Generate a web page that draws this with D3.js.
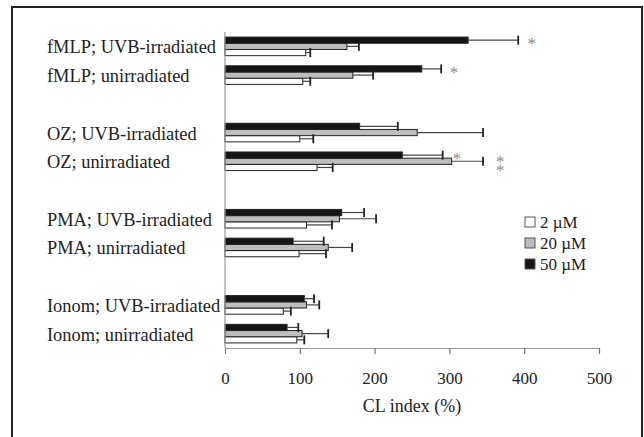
<!DOCTYPE html>
<meta charset="utf-8">
<script src="https://d3js.org/d3.v7.min.js"></script>
<style>
  body { margin: 0; background: #fff; }
  svg text { font-family: "Liberation Serif", "Times New Roman", serif; fill: #222; }
</style>
<svg width=644 height=437></svg>
<script>
// categories, top to bottom; a blank slot follows each pair
var categories = ["fMLP; UVB-irradiated", "fMLP; unirradiated",
                  "OZ; UVB-irradiated", "OZ; unirradiated",
                  "PMA; UVB-irradiated", "PMA; unirradiated",
                  "Ionom; UVB-irradiated", "Ionom; unirradiated"];
var series = ["2 \u00b5M", "20 \u00b5M", "50 \u00b5M"];

// CL index (%) means and error bars, one entry per category
var mean2  = [108, 104, 100, 123, 109,  99,  78,  96];
var err2   = [  6,  10,  18,  21,  34,  36,  10,  10];
var mean20 = [163, 171, 257, 303, 153, 138, 109, 103];
var err20  = [ 16,  27,  88,  42,  49,  32,  17,  35];
var mean50 = [325, 263, 180, 237, 156,  91, 106,  83];
var err50  = [ 67,  26,  51,  54,  30,  41,  13,  15];

var xTicks = [0, 100, 200, 300, 400, 500];

// significance marks: category, series indexes, x value where the mark sits
var stars = [
  ["fMLP; UVB-irradiated", [2], 410],
  ["fMLP; unirradiated", [2], 306],
  ["OZ; unirradiated", [2], 310],
  ["OZ; unirradiated", [1, 0], 368]
];

var means = [mean2, mean20, mean50];
var errs = [err2, err20, err50];
var fills = ["#ffffff", "#bdbdbd", "#151515"];

var svg = d3.select("svg");

// outer frame
svg.append("rect")
  .attr("x", 12).attr("y", 7)
  .attr("width", 630).attr("height", 450)
  .attr("fill", "none").attr("stroke", "#222").attr("stroke-width", 2);

var slots = [];
categories.forEach(function(c, i) {
  slots.push(c);
  if (i % 2 == 1 && i < categories.length - 1) slots.push("gap" + i);
});

var x = d3.scaleLinear().domain([0, 500]).range([225, 599]);
var y = d3.scaleBand().domain(slots).range([32, 348]).padding(0);

// bars: 50 on top, then 20, then 2
var barH = 6.2;
var rowOrder = [2, 1, 0];
function rowY(cat, s) {
  var top = y(cat) + (y.bandwidth() - barH * 3) / 2;
  return top + rowOrder.indexOf(s) * barH;
}

var rows = [];
categories.forEach(function(c, i) {
  for (var s = 0; s < 3; s++) {
    rows.push({cat: c, s: s, v: means[s][i], e: errs[s][i]});
  }
});

var g = svg.append("g");

g.selectAll("rect.bar")
  .data(rows)
  .enter().append("rect")
  .attr("class", "bar")
  .attr("x", x(0))
  .attr("y", function(d) { return rowY(d.cat, d.s); })
  .attr("width", function(d) { return x(d.v) - x(0); })
  .attr("height", barH)
  .attr("fill", function(d) { return fills[d.s]; })
  .attr("stroke", "#222")
  .attr("stroke-width", 1);

// error bars
g.selectAll("line.err")
  .data(rows)
  .enter().append("line")
  .attr("class", "err")
  .attr("x1", function(d) { return x(d.v); })
  .attr("x2", function(d) { return x(d.v + d.e); })
  .attr("y1", function(d) { return rowY(d.cat, d.s) + barH / 2; })
  .attr("y2", function(d) { return rowY(d.cat, d.s) + barH / 2; })
  .attr("stroke", "#444").attr("stroke-width", 1.2);

g.selectAll("line.cap")
  .data(rows)
  .enter().append("line")
  .attr("class", "cap")
  .attr("x1", function(d) { return x(d.v + d.e); })
  .attr("x2", function(d) { return x(d.v + d.e); })
  .attr("y1", function(d) { return rowY(d.cat, d.s) + barH / 2 - 4.5; })
  .attr("y2", function(d) { return rowY(d.cat, d.s) + barH / 2 + 4.5; })
  .attr("stroke", "#222").attr("stroke-width", 1.8);

// asterisks; a mark for two rows is one vertical "**" text
g.selectAll("text.star")
  .data(stars)
  .enter().append("text")
  .attr("class", "star")
  .attr("x", function(d) { return x(d[2]); })
  .attr("y", function(d) {
    var ys = d[1].map(function(s) { return rowY(d[0], s) + barH / 2; });
    return d[1].length > 1 ? d3.mean(ys) - 3 : ys[0] + 9;
  })
  .attr("text-anchor", "middle")
  .style("font-size", "17px")
  .style("fill", "#8a8a8a")
  .each(function(d) {
    if (d[1].length > 1) {
      d3.select(this)
        .style("writing-mode", "vertical-rl")
        .style("text-orientation", "upright")
        .style("letter-spacing", "-10px");
    }
  })
  .text(function(d) { return d[1].map(function() { return "*"; }).join(""); });

// vertical axis line
svg.append("line")
  .attr("x1", x(0)).attr("x2", x(0))
  .attr("y1", 32).attr("y2", 348)
  .attr("stroke", "#999").attr("stroke-width", 1.2);

// category labels
svg.selectAll("text.cat")
  .data(categories)
  .enter().append("text")
  .attr("class", "cat")
  .attr("x", 47)
  .attr("y", function(d) { return y(d) + y.bandwidth() / 2 + 7; })
  .style("font-size", "18.4px")
  .text(function(d) { return d; });

// x axis
var xa = svg.append("g")
  .attr("transform", "translate(0,348)")
  .call(d3.axisBottom(x).tickValues(xTicks).tickSize(6).tickSizeOuter(0));
xa.select(".domain").attr("stroke", "#999").attr("stroke-width", 1.2);
xa.selectAll(".tick line").attr("stroke", "#777").attr("stroke-width", 1.2);
xa.selectAll(".tick text")
  .attr("y", 36).attr("dy", null)
  .style("font-size", "17px")
  .style("font-family", "Liberation Serif, serif")
  .attr("fill", "#222");

svg.append("text")
  .attr("x", (x(0) + x(500)) / 2)
  .attr("y", 412)
  .attr("text-anchor", "middle")
  .style("font-size", "18px")
  .text("CL index (%)");

// legend
var lg = svg.append("g").attr("transform", "translate(525,222)");
var li = lg.selectAll("g").data(series).enter().append("g")
  .attr("transform", function(d, i) { return "translate(0," + i * 21 + ")"; });
li.append("rect")
  .attr("x", 0).attr("y", -5)
  .attr("width", 10).attr("height", 10)
  .attr("fill", function(d, i) { return fills[i]; })
  .attr("stroke", "#555").attr("stroke-width", 1);
li.append("text")
  .attr("x", 15).attr("y", 6)
  .style("font-size", "17px")
  .text(function(d) { return d; });
</script>
